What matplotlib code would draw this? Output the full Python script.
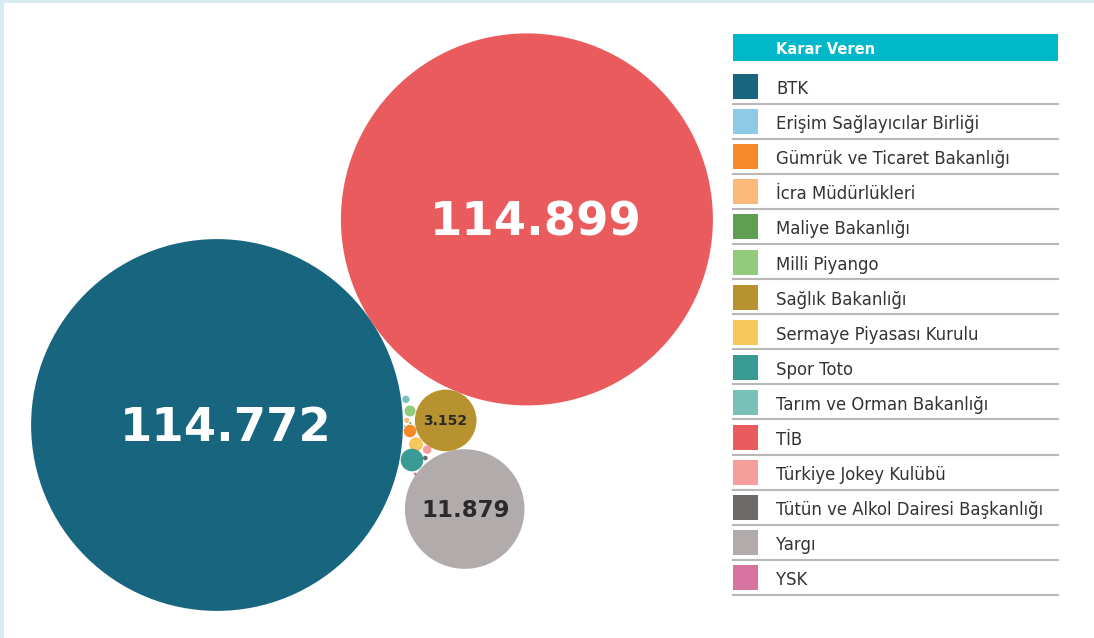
import numpy as np
import matplotlib.pyplot as plt
from matplotlib.patches import Circle, Rectangle

# veriler
kurumlar = ['BTK', 'Erişim Sağlayıcılar Birliği', 'Gümrük ve Ticaret Bakanlığı',
            'İcra Müdürlükleri', 'Maliye Bakanlığı', 'Milli Piyango',
            'Sağlık Bakanlığı', 'Sermaye Piyasası Kurulu', 'Spor Toto',
            'Tarım ve Orman Bakanlığı', 'TİB', 'Türkiye Jokey Kulübü',
            'Tütün ve Alkol Dairesi Başkanlığı', 'Yargı', 'YSK']
karar_sayisi = [114772, 3, 132, 24, 3, 100, 3152, 163, 424, 45, 114899, 61, 18, 11879, 7]
renkler = ['#17657f', '#8ecae6', '#f58a2b', '#fbb97a', '#5f9f52', '#92cb7c',
           '#b8922e', '#f6c85c', '#3a9a94', '#78c0b8', '#ea5b5e', '#f59e9b',
           '#6e6a6a', '#b1acab', '#d6749f']

# yerlesim: (komsu, aci, bosluk) -- balonlar komsuya tegetsel yerlestirilir
merkez = {'BTK': (217, 425)}
yerlesim = {
    'TİB': ('BTK', -33.56, 0),
    'Sağlık Bakanlığı': ('TİB', 112.0, 0),
    'Yargı': ('Sağlık Bakanlığı', 77.9, 0),
    'Tarım ve Orman Bakanlığı': ('BTK', -7.74, 1.1),
    'Milli Piyango': ('BTK', -4.15, 2.1),
    'İcra Müdürlükleri': ('BTK', -1.42, 1.2),
    'Maliye Bakanlığı': ('BTK', -0.59, 6.4),
    'Erişim Sağlayıcılar Birliği': ('BTK', 0.31, 0.45),
    'Gümrük ve Ticaret Bakanlığı': ('BTK', 1.78, 0.9),
    'Sermaye Piyasası Kurulu': ('BTK', 5.54, 7.0),
    'Spor Toto': ('BTK', 10.18, 0.9),
    'Türkiye Jokey Kulübü': ('BTK', 6.70, 21.5),
    'Tütün ve Alkol Dairesi Başkanlığı': ('BTK', 9.0, 22.7),
    'YSK': ('BTK', 13.88, 16.9),
}

OLCEK = 186 / np.sqrt(max(karar_sayisi))
yaricap = {k: OLCEK * np.sqrt(v) for k, v in zip(kurumlar, karar_sayisi)}
for ad, (komsu, aci, bosluk) in yerlesim.items():
    cx, cy = merkez[komsu]
    d = yaricap[komsu] + yaricap[ad] + bosluk
    a = np.radians(aci)
    merkez[ad] = (cx + d * np.cos(a), cy + d * np.sin(a))

fig = plt.figure(figsize=(10.94, 6.38), dpi=100)
ax = fig.add_axes([0, 0, 1, 1])
ax.set_xlim(0, 1094)
ax.set_ylim(638, 0)
ax.set_aspect('equal')
ax.axis('off')

# kenar cizgisi
ax.add_patch(Rectangle((0, 0), 4, 638, color='#d6ecf1', lw=0))
ax.add_patch(Rectangle((0, 0), 1094, 3, color='#d6ecf1', lw=0))

for ad, deger, renk in zip(kurumlar, karar_sayisi, renkler):
    x, y = merkez[ad]
    ax.add_patch(Circle((x, y), yaricap[ad], color=renk, lw=0))
    if deger >= 3000:
        yazi = f'{deger:,}'.replace(',', '.')
        if deger > 100000:
            ax.text(x + 9, y + 16, yazi, color='white', fontsize=33.5, fontweight='bold',
                    family='DejaVu Sans', ha='center', va='baseline')
        elif deger > 10000:
            ax.text(x + 1, y + 8, yazi, color='#2a2a2a', fontsize=16.5, fontweight='bold',
                    family='DejaVu Sans', ha='center', va='baseline')
        else:
            ax.text(x, y + 5, yazi, color='#2a2a2a', fontsize=10, fontweight='bold',
                    family='DejaVu Sans', ha='center', va='baseline')

# lejant
ax.add_patch(Rectangle((733, 34), 325, 27, color='#00b8c9', lw=0))
ax.text(776, 54, 'Karar Veren', color='white', fontsize=10.5, fontweight='bold',
        family='DejaVu Sans', va='baseline')
for i, (ad, renk) in enumerate(zip(kurumlar, renkler)):
    y0 = 74 + 35.1 * i
    ax.add_patch(Rectangle((733, y0), 25, 25, color=renk, lw=0))
    ax.text(776, y0 + 20, ad, color='#333333', fontsize=11.9, family='DejaVu Sans',
            va='baseline')
    ax.plot([733, 1058], [y0 + 29.5, y0 + 29.5], color='#b8b8b8', lw=1.5)

fig.savefig('out.png', dpi=100)
